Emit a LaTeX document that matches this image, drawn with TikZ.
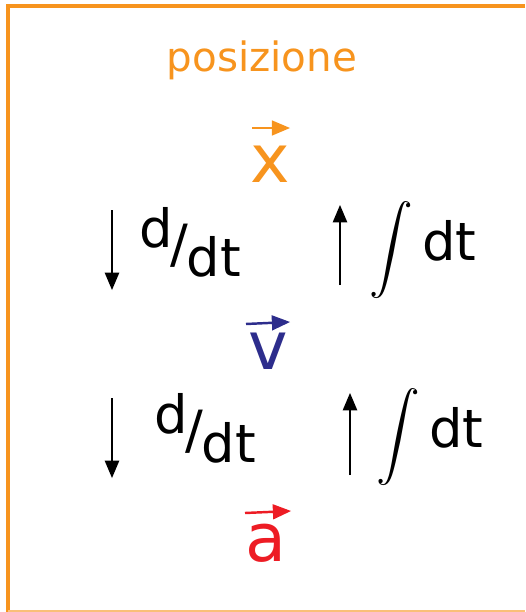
\documentclass[tikz,border=0pt]{standalone}
\usepackage{amsmath}
\usepackage{fontspec}
\setmainfont{DejaVu Sans}
\usepackage{tikz}
\usetikzlibrary{arrows,calc}

\definecolor{orangeK}{RGB}{247,148,30}
\definecolor{blueK}{RGB}{45,45,140}
\definecolor{redK}{RGB}{237,28,36}

\tikzset{
  vecnode/.style={font=\fontsize{38}{38}\selectfont, inner sep=0pt},
  vecarrow/.style={-triangle 45, line width=1.4pt},
  oplabel/.style={font=\fontsize{30}{30}\selectfont, inner sep=0pt},
  oparrow/.style={-triangle 45, line width=1.3pt, black}
}

\begin{document}
\begin{tikzpicture}[x=0.02cm,y=-0.02cm]
    \useasboundingbox (0,0) rectangle (525,612);

    % frame
    \draw [orangeK,line width=2.2pt] (525,6) -- (8,6) -- (8,612);
    \draw [orangeK!60,line width=1.5pt] (8,611) -- (525,611);

    % title
    \node [orangeK,font=\fontsize{23}{23}\selectfont,inner sep=0pt] (pos) at (262,60) {posizione};

    % vectors
    \node [vecnode,orangeK] (xv) at (270,164) {x};
    \node [vecnode,blueK] (vv) at (268,351) {v};
    \node [vecnode,redK] (av) at (266,543) {a};

    \coordinate (xa) at (252,128);
    \coordinate (xb) at (290,128);
    \coordinate (va) at (246,324);
    \coordinate (vb) at (290,322);
    \coordinate (aa) at (245,513);
    \coordinate (ab) at (291,511);
    \draw [vecarrow,orangeK] (xa) -- (xb);
    \draw [vecarrow,blueK] (va) -- (vb);
    \draw [vecarrow,redK] (aa) -- (ab);

    % arrow ends
    \coordinate (d1a) at (112,210);
    \coordinate (d1b) at (112,290);
    \coordinate (i1a) at (340,285);
    \coordinate (i1b) at (340,205);
    \coordinate (d2a) at (112,398);
    \coordinate (d2b) at (112,478);
    \coordinate (i2a) at (350,475);
    \coordinate (i2b) at (350,393);

    \draw [oparrow] (d1a) -- (d1b);
    \draw [oparrow] (i1a) -- (i1b);
    \draw [oparrow] (d2a) -- (d2b);
    \draw [oparrow] (i2a) -- (i2b);

    % operators
    \node [oplabel] (der1) at (190,242) {\raisebox{0.3em}{d}\kern-1pt/\kern-1pt\raisebox{-0.25em}{dt}};
    \node [oplabel] (der2) at (205,428) {\raisebox{0.3em}{d}\kern-1pt/\kern-1pt\raisebox{-0.25em}{dt}};
    \node [oplabel] (int1) at (423,250) {$\displaystyle\int$\,dt};
    \node [oplabel] (int2) at (430,437) {$\displaystyle\int$\,dt};
  \end{tikzpicture}
\end{document}
